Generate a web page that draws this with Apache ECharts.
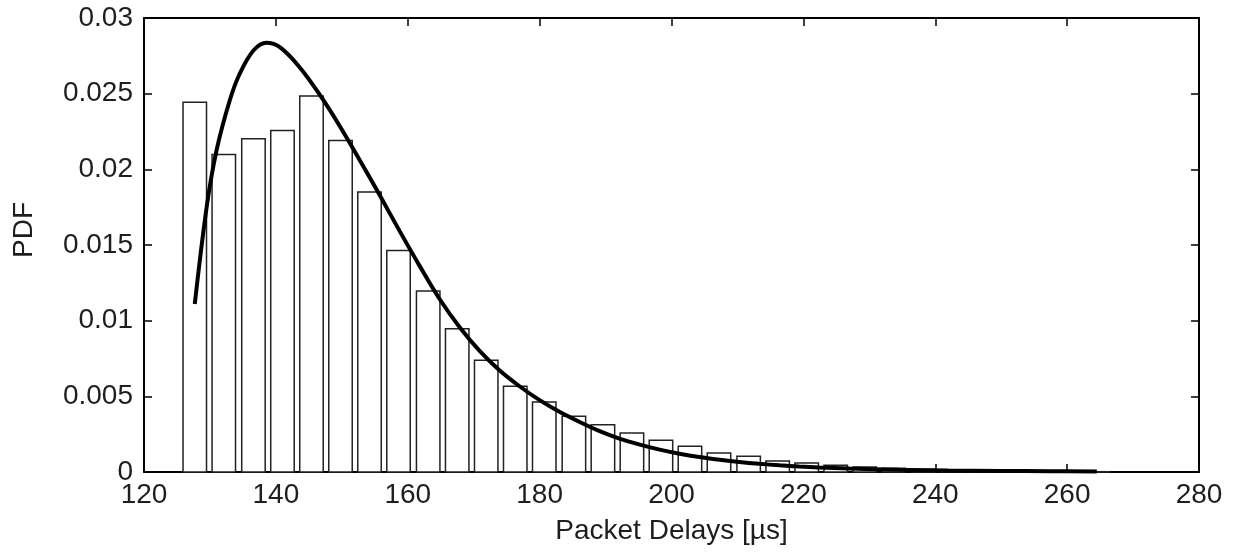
<!DOCTYPE html>
<html>
<head>
<meta charset="utf-8">
<script src="https://cdn.jsdelivr.net/npm/echarts@6/dist/echarts.min.js"></script>
<style>
html,body{margin:0;padding:0;background:#fff;}
#chart{width:1241px;height:552px;}
</style>
</head>
<body>
<div id="chart"></div>
<script>
// Histogram bin centers (Packet delay, µs) and PDF values
const binCenters = [127.7, 132.1, 136.6, 141.0, 145.4, 149.8, 154.2, 158.6, 163.1, 167.5,
  171.9, 176.3, 180.7, 185.2, 189.6, 194.0, 198.4, 202.8, 207.2, 211.7,
  216.1, 220.5, 224.9, 229.3, 233.7, 238.2, 242.6, 247.0, 251.4, 255.8, 260.2, 264.7];
const binValues = [0.02444, 0.02098, 0.02202, 0.02257, 0.02484, 0.02191, 0.01850, 0.01464, 0.01196, 0.00947,
  0.00738, 0.00566, 0.00462, 0.00368, 0.00313, 0.00258, 0.00209, 0.00170, 0.00126, 0.00104,
  0.00073, 0.00060, 0.00045, 0.00033, 0.00024, 0.00018, 0.00013, 0.00010, 0.00007, 0.00005, 0.00003, 0.00002];

// Fitted PDF curve
const curveX = [127.7, 129.5, 131.0, 133.0, 134.5, 136.6, 138.6, 140.6, 143.6, 146.7,
  149.7, 152.7, 155.8, 158.8, 161.8, 164.8, 167.9, 170.9, 173.9, 177.0,
  180.0, 183.0, 186.1, 189.1, 192.1, 195.2, 198.2, 201.2, 204.2, 207.3,
  210.3, 213.3, 216.4, 219.4, 222.4, 227.0, 234.5, 242.0, 249.7, 257.3, 264.5];
const curveY = [0.0111, 0.0175, 0.02125, 0.02455, 0.0263, 0.02785, 0.02836, 0.02807, 0.02675, 0.02490,
  0.02285, 0.02062, 0.01825, 0.01590, 0.01362, 0.01145, 0.00955, 0.00800, 0.00672, 0.00565,
  0.00475, 0.00398, 0.00330, 0.00270, 0.00221, 0.00181, 0.00148, 0.00121, 0.00099, 0.00081,
  0.00066, 0.00054, 0.00044, 0.00036, 0.00030, 0.00023, 0.00015, 0.00010, 0.00007, 0.00005, 0.00003];

const xTicks = {min: 120, max: 280, interval: 20};
const yTicks = {min: 0, max: 0.03, interval: 0.005};

const FONT = 'Liberation Sans';
const FS = 28;
const TXT = '#1e1e1e';
const barHalfWidth = 1.78;

const chart = echarts.init(document.getElementById('chart'), null, {renderer: 'canvas'});

const axisCommon = {
  axisLine: {show: true, onZero: false, lineStyle: {color: '#000', width: 2}},
  axisTick: {show: true, inside: true, length: 8, lineStyle: {color: '#000', width: 1.5}},
  splitLine: {show: false}
};

const option = {
  animation: false,
  backgroundColor: '#fff',
  grid: {left: 144, right: 42, top: 18, bottom: 80, containLabel: false},
  xAxis: [
    Object.assign({
      type: 'value', position: 'bottom', min: xTicks.min, max: xTicks.max, interval: xTicks.interval,
      name: 'Packet Delays [\u00b5s]', nameLocation: 'middle', nameGap: 45,
      nameTextStyle: {fontFamily: FONT, fontSize: FS, color: TXT},
      axisLabel: {fontFamily: FONT, fontSize: FS, color: TXT, margin: 9}
    }, axisCommon),
    Object.assign({
      type: 'value', position: 'top', min: xTicks.min, max: xTicks.max, interval: xTicks.interval,
      axisLabel: {show: false}
    }, axisCommon)
  ],
  yAxis: [
    Object.assign({
      type: 'value', position: 'left', min: yTicks.min, max: yTicks.max, interval: yTicks.interval,
      axisLabel: {fontFamily: FONT, fontSize: FS, color: TXT, margin: 11,
        formatter: v => String(+v.toFixed(3))}
    }, axisCommon),
    Object.assign({
      type: 'value', position: 'right', min: yTicks.min, max: yTicks.max, interval: yTicks.interval,
      axisLabel: {show: false}
    }, axisCommon)
  ],
  graphic: [{
    type: 'text', left: 10, top: 202, rotation: Math.PI / 2,
    style: {text: 'PDF', fontFamily: FONT, fontSize: FS, fill: TXT}
  }],
  series: [
    {
      type: 'custom',
      xAxisIndex: 0, yAxisIndex: 0,
      data: binCenters.map((c, i) => [c, binValues[i]]),
      renderItem: function (params, api) {
        const x = api.value(0), y = api.value(1);
        const p0 = api.coord([x - barHalfWidth, 0]);
        const p1 = api.coord([x + barHalfWidth, y]);
        return {
          type: 'rect',
          shape: {x: p0[0], y: p1[1], width: p1[0] - p0[0], height: p0[1] - p1[1]},
          style: {fill: '#fff', stroke: '#222', lineWidth: 1.5}
        };
      },
      z: 2
    },
    {
      type: 'line',
      xAxisIndex: 0, yAxisIndex: 0,
      data: curveX.map((x, i) => [x, curveY[i]]),
      showSymbol: false,
      smooth: 0.35,
      lineStyle: {color: '#000', width: 4},
      z: 3
    }
  ]
};
chart.setOption(option);
</script>
</body>
</html>
